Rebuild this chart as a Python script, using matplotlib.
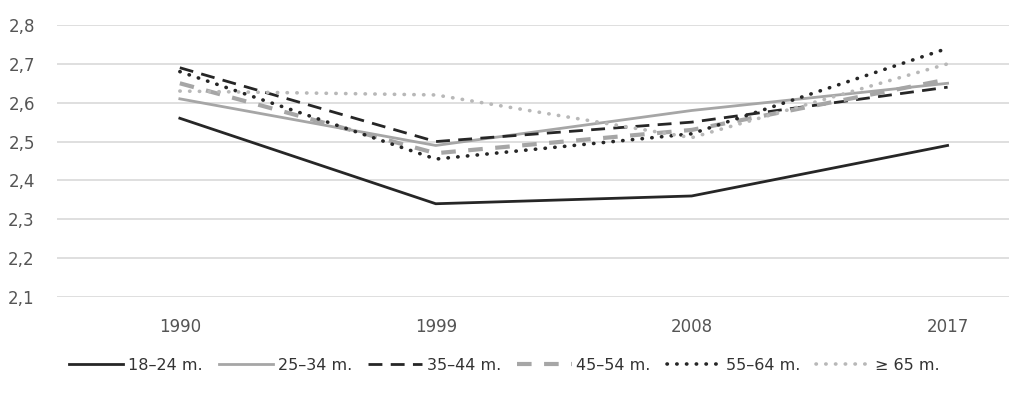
import matplotlib.pyplot as plt
from matplotlib.ticker import FuncFormatter

# Data
years = ['1990', '1999', '2008', '2017']
groups = ['18–24 m.', '25–34 m.', '35–44 m.', '45–54 m.', '55–64 m.', '≥ 65 m.']
v18_24 = [2.56, 2.34, 2.36, 2.49]
v25_34 = [2.61, 2.49, 2.58, 2.65]
v35_44 = [2.69, 2.50, 2.55, 2.64]
v45_54 = [2.65, 2.47, 2.53, 2.66]
v55_64 = [2.68, 2.455, 2.52, 2.74]
v65 = [2.63, 2.62, 2.51, 2.70]
series = [v18_24, v25_34, v35_44, v45_54, v55_64, v65]

# styles: (color, linewidth, dashes)
styles = [
    ('#262626', 2.0, None),
    ('#a6a6a6', 2.0, None),
    ('#262626', 2.0, (5, 3)),
    ('#a6a6a6', 3.0, (3.5, 3)),
    ('#262626', 2.6, (0.1, 2.6)),
    ('#b8b8b8', 2.6, (0.1, 2.6)),
]

plt.rcParams['font.family'] = ['Liberation Sans Narrow', 'DejaVu Sans']

fig = plt.figure(figsize=(10.09, 3.97), dpi=100)
ax = fig.add_axes([57 / 1009, 100 / 397, 952 / 1009, 272 / 397])

x = list(range(len(years)))
for vals, name, (c, lw, d) in zip(series, groups, styles):
    line, = ax.plot(x, vals, color=c, lw=lw, label=name, clip_on=False)
    if d is not None:
        line.set_dashes(d)
        if d[0] < 0.5:
            line.set_dash_capstyle('round')

ax.set_xlim(-0.48, 3.24)
ax.set_ylim(2.1, 2.8)
ax.set_yticks([2.1, 2.2, 2.3, 2.4, 2.5, 2.6, 2.7, 2.8])
ax.yaxis.set_major_formatter(FuncFormatter(lambda v, p: f'{v:.1f}'.replace('.', ',')))
ax.set_xticks(x)
ax.set_xticklabels(years)

ax.grid(axis='y', color='#d9d9d9', lw=1.2)
ax.set_axisbelow(True)
for s in ax.spines.values():
    s.set_visible(False)
ax.tick_params(length=0, labelsize=12, labelcolor='#555555')
ax.tick_params(axis='x', pad=15)
ax.tick_params(axis='y', pad=16)

fig.legend(loc='center', bbox_to_anchor=(0.5, 0.08), ncol=6, frameon=False,
           fontsize=11.5, labelcolor='#333333', handlelength=3.4,
           handletextpad=0.3, columnspacing=1.0)

fig.savefig('out.png', dpi=100)
